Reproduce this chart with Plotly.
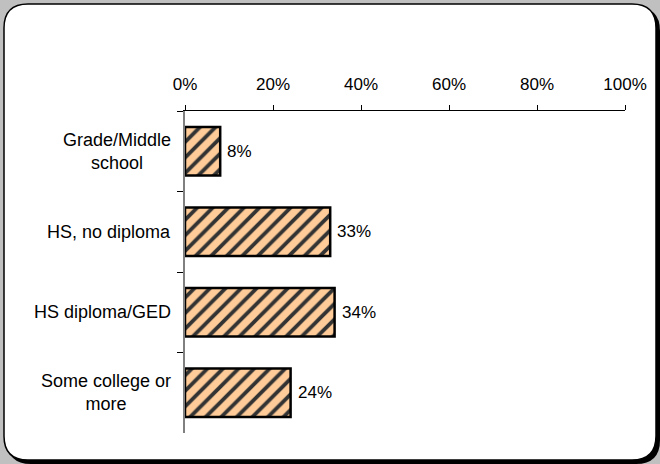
import plotly.graph_objects as go

categories = ["Grade/Middle<br>school", "HS, no diploma", "HS diploma/GED", "Some college or<br>more"]
values = [8, 33, 34, 24]
tick_vals = [0, 20, 40, 60, 80, 100]
tick_text = ["0%", "20%", "40%", "60%", "80%", "100%"]

W, H = 660, 464
ML, MR, MT, MB = 185, 35, 111, 31
PW, PH = W - ML - MR, H - MT - MB

def px(X):
    return (X - ML) / PW

def py(Y):
    return (H - MB - Y) / PH

def rrect(x0, y0, x1, y1, r):
    pts = [
        f"M {px(x0 + r)},{py(y0)}",
        f"L {px(x1 - r)},{py(y0)}",
        f"Q {px(x1)},{py(y0)} {px(x1)},{py(y0 + r)}",
        f"L {px(x1)},{py(y1 - r)}",
        f"Q {px(x1)},{py(y1)} {px(x1 - r)},{py(y1)}",
        f"L {px(x0 + r)},{py(y1)}",
        f"Q {px(x0)},{py(y1)} {px(x0)},{py(y1 - r)}",
        f"L {px(x0)},{py(y0 + r)}",
        f"Q {px(x0)},{py(y0)} {px(x0 + r)},{py(y0)}",
        "Z",
    ]
    return " ".join(pts)

font = "Liberation Sans, Arial, sans-serif"

fig = go.Figure()
fig.add_trace(go.Bar(
    y=categories, x=values, orientation="h",
    marker=dict(
        color="#FFCC99",
        line=dict(color="black", width=2.5),
        pattern=dict(shape="/", fgcolor="#333333", bgcolor="#FFCC99",
                     size=11, solidity=0.35, fillmode="replace"),
    ),
    hoverinfo="skip",
))

annotations = []
for c in categories:
    annotations.append(dict(
        x=0, xref="paper", y=c, yref="y", text=c, showarrow=False,
        xanchor="right", yanchor="middle", align="center", xshift=-12,
        font=dict(family=font, size=18, color="black"),
    ))
for c, v in zip(categories, values):
    annotations.append(dict(
        x=v, xref="x", y=c, yref="y", text=f"{v}%", showarrow=False,
        xanchor="left", yanchor="middle", xshift=5,
        font=dict(family=font, size=17, color="black"),
    ))

shapes = [
    dict(type="path", xref="paper", yref="paper", layer="below",
         path=rrect(7, 7, 660, 464, 24), fillcolor="black", line=dict(width=0)),
    dict(type="path", xref="paper", yref="paper", layer="below",
         path=rrect(4, 4, 656, 460, 24), fillcolor="white",
         line=dict(color="black", width=1.5)),
]

fig.update_layout(
    width=W, height=H,
    margin=dict(l=ML, r=MR, t=MT, b=MB),
    paper_bgcolor="#C0C0C0", plot_bgcolor="rgba(0,0,0,0)",
    showlegend=False, bargap=0.4,
    font=dict(family=font, size=17, color="black"),
    annotations=annotations, shapes=shapes,
    xaxis=dict(
        side="top", range=[0, 100], tickvals=tick_vals, ticktext=tick_text,
        showgrid=False, zeroline=False, showline=True, linecolor="black", linewidth=1,
        ticks="outside", ticklen=5, tickcolor="black", tickwidth=1,
        tickfont=dict(family=font, size=17), fixedrange=True,
        ticklabelstandoff=8,
    ),
    yaxis=dict(
        autorange="reversed", showticklabels=False, showgrid=False, zeroline=False,
        showline=True, linecolor="#808080", linewidth=2,
        ticks="outside", tickson="boundaries", ticklen=6, tickcolor="black", tickwidth=1,
        fixedrange=True,
    ),
)

fig.write_html("out.html", config={"displayModeBar": False},
               post_script="document.body.style.margin='0px';document.body.style.overflow='hidden';")
